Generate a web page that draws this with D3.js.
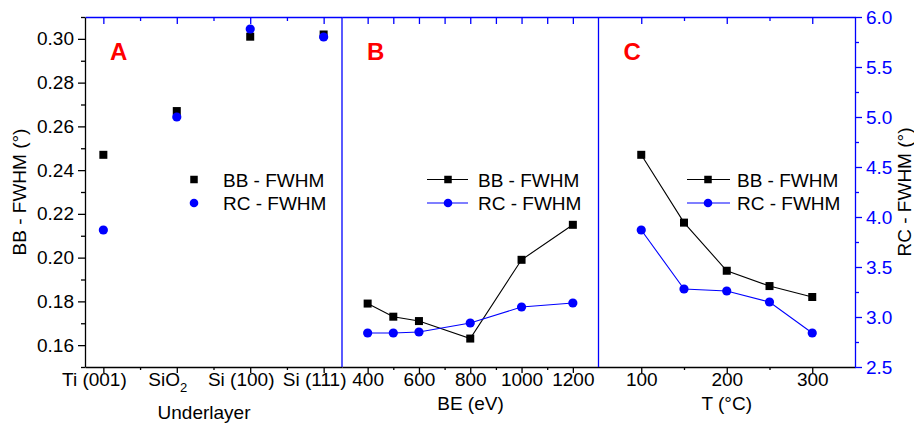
<!DOCTYPE html>
<html><head><meta charset="utf-8">
<script src="https://cdn.jsdelivr.net/npm/d3@7"></script>
<style>
body{margin:0;background:#fff}
svg{display:block;font-family:"Liberation Sans",Arial,Helvetica,sans-serif}
</style>
</head><body>
<svg id="chart" width="914" height="424"></svg>
<script>
// ---- data ----
const underlayers = ["Ti (001)", "SiO2", "Si (100)", "Si (111)"];
const bbUnderlayer = [0.247, 0.267, 0.301, 0.302];
const rcUnderlayer = [3.87, 5.00, 5.88, 5.80];

const beValues = [400, 500, 600, 800, 1000, 1200];
const bbBE = [0.179, 0.173, 0.171, 0.163, 0.199, 0.215];
const rcBE = [2.84, 2.84, 2.85, 2.94, 3.10, 3.14];

const temps = [100, 150, 200, 250, 300];
const bbTemp = [0.247, 0.216, 0.194, 0.187, 0.182];
const rcTemp = [3.87, 3.28, 3.26, 3.15, 2.84];

const bbTicks = [0.16, 0.18, 0.20, 0.22, 0.24, 0.26, 0.28, 0.30];
const bbMinor = [0.15, 0.17, 0.19, 0.21, 0.23, 0.25, 0.27, 0.29, 0.31];
const rcTicks = [2.5, 3.0, 3.5, 4.0, 4.5, 5.0, 5.5, 6.0];
const rcMinor = [2.75, 3.25, 3.75, 4.25, 4.75, 5.25, 5.75];

const panelLabels = ["A", "B", "C"];
const seriesNames = ["BB - FWHM", "RC - FWHM"];
const xTitles = ["Underlayer", "BE (eV)", "T (\u00B0C)"];

// ---- layout ----
const BLUE = "#0000ff", RED = "#ff0000", BLACK = "#000";
const plotTop = 17, plotBottom = 367, plotLeft = 85, plotRight = 855;
const edges = [85, 342, 598.5, 855];

const svg = d3.select("#chart");

const yBB = d3.scaleLinear().domain([0.15, 0.31]).range([plotBottom, plotTop]);
const yRC = d3.scaleLinear().domain([2.5, 6.0]).range([plotBottom, plotTop]);

const panels = [
  { domain: [0.75, 4.25], xs: [1, 2, 3, 4], bb: bbUnderlayer, rc: rcUnderlayer,
    major: [1, 2, 3, 4], minor: [1.5, 2.5, 3.5], lines: false,
    fmt: d => underlayers[d - 1], labelShift: -9.5, titleX: 204, titleY: 419,
    legend: { marker: 194, text: 223 } },
  { domain: [300, 1300], xs: beValues, bb: bbBE, rc: rcBE,
    major: [400, 600, 800, 1000, 1200], minor: [500, 700, 900, 1100], lines: true,
    fmt: d3.format("d"), labelShift: 0, titleX: 470.5, titleY: 410,
    legend: { lineFrom: 427, lineTo: 468, marker: 448, text: 478 } },
  { domain: [50, 350], xs: temps, bb: bbTemp, rc: rcTemp,
    major: [100, 200, 300], minor: [150, 250], lines: true,
    fmt: d3.format("d"), labelShift: 0, titleX: 726.7, titleY: 410,
    legend: { lineFrom: 687, lineTo: 730, marker: 708, text: 737 } }
];

function styleAxis(g, color, width) {
  g.selectAll("path.domain").attr("stroke", color).attr("stroke-width", width);
  g.selectAll(".tick line").attr("stroke", color).attr("stroke-width", width);
  g.selectAll(".tick text").attr("fill", color).style("font-size", "19px")
    .style("font-family", '"Liberation Sans",Arial,sans-serif');
}

panels.forEach((p, i) => {
  const x = d3.scaleLinear().domain(p.domain).range([edges[i], edges[i + 1]]);

  // bottom axis: major + minor ticks (outward)
  const gb = svg.append("g").attr("transform", `translate(0,${plotBottom})`)
    .call(d3.axisBottom(x).tickValues(p.major).tickSize(6).tickSizeOuter(0)
      .tickPadding(0).tickFormat(p.fmt));
  styleAxis(gb, BLACK, 1.3);
  gb.selectAll(".tick text").attr("dx", p.labelShift);
  const gbm = svg.append("g").attr("transform", `translate(0,${plotBottom})`)
    .call(d3.axisBottom(x).tickValues(p.minor).tickSize(3).tickFormat(""));
  gbm.select("path.domain").remove();
  styleAxis(gbm, BLACK, 1.3);

  // subscripted oxide label
  if (i === 0) {
    gb.selectAll(".tick text").filter(d => underlayers[d - 1] === "SiO2").each(function () {
      const t = d3.select(this).text("");
      t.append("tspan").text("SiO");
      t.append("tspan").attr("dy", 6).style("font-size", "13px").text("2");
    });
  }

  // top axis: ticks pointing inward
  const gt = svg.append("g").attr("transform", `translate(0,${plotTop})`)
    .call(d3.axisTop(x).tickValues(p.major.concat(i === 1 ? p.minor : [])).tickSize(-7)
      .tickSizeOuter(0).tickFormat(""));
  styleAxis(gt, BLUE, 1.3);
  const gtm = svg.append("g").attr("transform", `translate(0,${plotTop})`)
    .call(d3.axisTop(x).tickValues(i === 1 ? [] : p.minor).tickSize(-4).tickFormat(""));
  gtm.select("path.domain").remove();
  styleAxis(gtm, BLUE, 1.3);

  // axis title
  svg.append("text").attr("x", p.titleX).attr("y", p.titleY)
    .attr("text-anchor", "middle").style("font-size", "19px").text(xTitles[i]);

  // series
  const pts = p.xs.map((v, k) => ({ x: x(v), bb: yBB(p.bb[k]), rc: yRC(p.rc[k]) }));
  if (p.lines) {
    svg.append("path").datum(pts)
      .attr("d", d3.line().x(d => d.x).y(d => d.bb))
      .attr("fill", "none").attr("stroke", BLACK).attr("stroke-width", 1.1);
    svg.append("path").datum(pts)
      .attr("d", d3.line().x(d => d.x).y(d => d.rc))
      .attr("fill", "none").attr("stroke", BLUE).attr("stroke-width", 1.1);
  }
  svg.append("g").selectAll("rect").data(pts).join("rect")
    .attr("x", d => d.x - 4).attr("y", d => d.bb - 4)
    .attr("width", 8).attr("height", 8).attr("fill", BLACK);
  svg.append("g").selectAll("circle").data(pts).join("circle")
    .attr("cx", d => d.x).attr("cy", d => d.rc).attr("r", 4.6).attr("fill", BLUE);

  // panel letter
  svg.append("text").attr("x", edges[i] + 25).attr("y", 60)
    .attr("fill", RED).style("font-size", "24px").style("font-weight", "bold")
    .text(panelLabels[i]);

  // legend
  const L = p.legend;
  const rows = [{ y: 179.5, color: BLACK, shape: "square" }, { y: 203, color: BLUE, shape: "circle" }];
  rows.forEach((r, k) => {
    if (L.lineFrom !== undefined) {
      svg.append("line").attr("x1", L.lineFrom).attr("x2", L.lineTo)
        .attr("y1", r.y).attr("y2", r.y).attr("stroke", r.color).attr("stroke-width", 1.1);
    }
    if (r.shape === "square") {
      svg.append("rect").attr("x", L.marker - 3.75).attr("y", r.y - 3.75)
        .attr("width", 7.5).attr("height", 7.5).attr("fill", r.color);
    } else {
      svg.append("circle").attr("cx", L.marker).attr("cy", r.y).attr("r", 4.3).attr("fill", r.color);
    }
    svg.append("text").attr("x", L.text).attr("y", r.y + 7)
      .style("font-size", "19px").text(seriesNames[k]);
  });
});

// panel dividers
[edges[1], edges[2]].forEach(xv => {
  svg.append("line").attr("x1", xv).attr("x2", xv).attr("y1", plotTop).attr("y2", plotBottom)
    .attr("stroke", BLUE).attr("stroke-width", 1.3);
});

// left axis (BB)
const gl = svg.append("g").attr("transform", `translate(${plotLeft},0)`)
  .call(d3.axisLeft(yBB).tickValues(bbTicks).tickSize(7).tickSizeOuter(0)
    .tickPadding(4).tickFormat(d3.format(".2f")));
styleAxis(gl, BLACK, 1.3);
const glm = svg.append("g").attr("transform", `translate(${plotLeft},0)`)
  .call(d3.axisLeft(yBB).tickValues(bbMinor).tickSize(4).tickFormat(""));
glm.select("path.domain").remove();
styleAxis(glm, BLACK, 1.3);

// right axis (RC)
const gr = svg.append("g").attr("transform", `translate(${plotRight},0)`)
  .call(d3.axisRight(yRC).tickValues(rcTicks).tickSize(7).tickSizeOuter(0)
    .tickPadding(4).tickFormat(d3.format(".1f")));
styleAxis(gr, BLUE, 1.3);
const grm = svg.append("g").attr("transform", `translate(${plotRight},0)`)
  .call(d3.axisRight(yRC).tickValues(rcMinor).tickSize(4).tickFormat(""));
grm.select("path.domain").remove();
styleAxis(grm, BLUE, 1.3);

// y-axis titles
svg.append("text").attr("transform", `translate(26,${(plotTop + plotBottom) / 2}) rotate(-90)`)
  .attr("text-anchor", "middle").style("font-size", "19px").text("BB - FWHM (\u00B0)");
svg.append("text").attr("transform", `translate(911,${(plotTop + plotBottom) / 2}) rotate(-90)`)
  .attr("text-anchor", "middle").style("font-size", "19px").text("RC - FWHM (\u00B0)");
</script>
</body></html>
